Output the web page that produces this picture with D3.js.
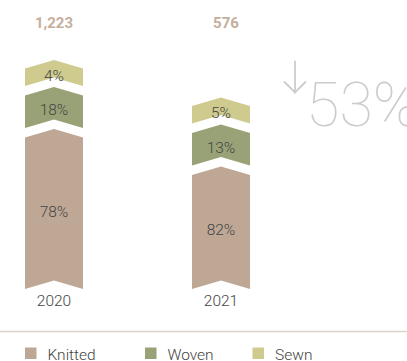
<!DOCTYPE html>
<html>
<head>
<meta charset="utf-8">
<script src="https://cdn.jsdelivr.net/npm/d3@7/dist/d3.min.js"></script>
<style>
  html, body { margin: 0; padding: 0; background: #fff; }
  svg { display: block; font-family: Roboto, "Noto Sans", sans-serif; }
</style>
</head>
<body>
<svg id="chart" width="407" height="361"></svg>
<script>
// Production mix by year
const years = ["2020", "2021"];
const totals = [1223, 576];
const totalLabels = ["1,223", "576"];
const series = ["Knitted", "Woven", "Sewn"];
const knitted = [78, 82];
const woven = [18, 13];
const sewn = [4, 5];
const changeLabel = "53%";

const colors = { Knitted: "#bea794", Woven: "#98a276", Sewn: "#cfcb8f" };

const svg = d3.select("#chart");
const W = 407, H = 361;

const baseline = 289;      // bottom of the stacks
const gap = 9.5;           // white chevron gap between segments
const depth = 8.5;         // chevron point depth
const barW = 58;

const x = d3.scalePoint().domain(years).range([54, 221]);
// overall stack top from the yearly total
const yTop = d3.scaleLinear().domain([576, 1223]).range([106, 68.5]);
// small segments get a readable band height
const smallH = d3.scaleThreshold().domain([10]).range([17.5, 32.5]);

function chevron(x0, x1, y0, y1) {
  const cx = (x0 + x1) / 2;
  return `M${x0},${y0}L${cx},${y0 - depth}L${x1},${y0}L${x1},${y1}L${cx},${y1 - depth}L${x0},${y1}Z`;
}

years.forEach((yr, i) => {
  const cx = x(yr), x0 = cx - barW / 2, x1 = cx + barW / 2;
  const top = yTop(totals[i]);
  const segs = [];
  const sH = smallH(sewn[i]);
  const wH = smallH(woven[i]);
  segs.push({ key: "Sewn", v: sewn[i], y0: top, y1: top + sH });
  const wTop = top + sH + gap;
  segs.push({ key: "Woven", v: woven[i], y0: wTop, y1: wTop + wH });
  const kTop = wTop + wH + gap;
  segs.push({ key: "Knitted", v: knitted[i], y0: kTop, y1: baseline });

  const g = svg.append("g");
  g.selectAll("path").data(segs).join("path")
    .attr("d", d => chevron(x0, x1, d.y0, d.y1))
    .attr("fill", d => colors[d.key]);
  g.selectAll("text.pct").data(segs).join("text")
    .attr("class", "pct")
    .attr("x", cx)
    .attr("y", d => (d.y0 + d.y1) / 2 - 2)
    .attr("dy", "0.35em")
    .attr("text-anchor", "middle")
    .attr("font-size", 15.5)
    .attr("font-weight", 300)
    .attr("fill", "#444")
    .text(d => d.v + "%");

  // year label
  svg.append("text")
    .attr("x", cx).attr("y", 300.5).attr("dy", "0.35em")
    .attr("text-anchor", "middle")
    .attr("font-size", 15.5).attr("font-weight", 300)
    .attr("fill", "#444")
    .text(yr);

  // total on top
  svg.append("text")
    .attr("x", cx + (i === 1 ? 5 : 0)).attr("y", 22.3).attr("dy", "0.35em")
    .attr("text-anchor", "middle")
    .attr("font-size", 15).attr("font-weight", 700)
    .attr("fill", "#c6ae9c")
    .text(totalLabels[i]);
});

// change indicator
const arrow = svg.append("g").attr("stroke", "#cccccc").attr("stroke-width", 1.8).attr("fill", "none")
  .attr("stroke-linecap", "round");
arrow.append("line").attr("x1", 295).attr("y1", 61.5).attr("x2", 295).attr("y2", 92.5);
arrow.append("polyline").attr("points", "284.5,82 295,92.5 305.5,82");
svg.append("text")
  .attr("x", 306).attr("y", 126)
  .attr("font-size", 61).attr("font-weight", 100)
  .attr("fill", "#cccccc")
  .text(changeLabel);

// divider
svg.append("line")
  .attr("x1", 0).attr("x2", W).attr("y1", 331.5).attr("y2", 331.5)
  .attr("stroke", "#ddd2c7").attr("stroke-width", 1.5);

// legend
const legendX = [25, 145, 252.5];
const lg = svg.selectAll("g.legend").data(series).join("g")
  .attr("class", "legend")
  .attr("transform", (d, i) => `translate(${legendX[i]},347.5)`);
lg.append("rect").attr("width", 11.5).attr("height", 11.5).attr("fill", d => colors[d]);
lg.append("text")
  .attr("x", 22.5).attr("y", 7.3).attr("dy", "0.35em")
  .attr("font-size", 15.5).attr("font-weight", 300)
  .attr("fill", "#444")
  .text(d => d);
</script>
</body>
</html>
